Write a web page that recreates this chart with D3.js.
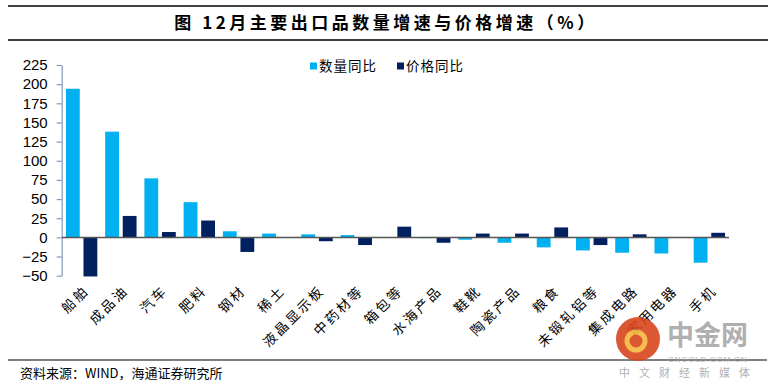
<!DOCTYPE html>
<html>
<head>
<meta charset="utf-8">
<script src="https://cdn.jsdelivr.net/npm/d3@7"></script>
<style>
  body { margin: 0; background: #fff; }
  svg { display: block; }
</style>
</head>
<body>
<svg id="chart" width="773" height="388"></svg>
<script>
// Data
const categories = ['船舶', '成品油', '汽车', '肥料', '钢材', '稀土', '液晶显示板', '中药材等', '箱包等',
    '水海产品', '鞋靴', '陶瓷产品', '粮食', '未锻轧铝等', '集成电路', '家用电器', '手机'];
const qty_yoy = [194, 138, 77, 46, 8, 5, 4, 3, 0, -1, -3, -7, -13, -17, -20, -21, -33];
const price_yoy = [-51, 28, 7, 22, -19, 0, -5, -10, 14, -7, 5, 5, 13, -10, 4, 0, 6];
const y_ticks = [-50, -25, 0, 25, 50, 75, 100, 125, 150, 175, 200, 225];
const series = ['数量同比', '价格同比'];

const colors = { '数量同比': '#00b0f0', '价格同比': '#002060' };
const cjk = '"Noto Sans CJK SC", sans-serif';

const svg = d3.select('#chart');

// title + frame lines
svg.append('line').attr('x1', 8).attr('x2', 768).attr('y1', 6).attr('y2', 6)
    .attr('stroke', '#000').attr('stroke-width', 1.5);
svg.append('line').attr('x1', 8).attr('x2', 768).attr('y1', 40).attr('y2', 40)
    .attr('stroke', '#000').attr('stroke-width', 1.5);
svg.append('text')
    .attr('x', 386).attr('y', 29)
    .attr('text-anchor', 'middle')
    .attr('font-family', cjk).attr('font-size', 17).attr('font-weight', 700)
    .attr('letter-spacing', 3.5)
    .text('图 12月主要出口品数量增速与价格增速（%）');

// scales
const x = d3.scaleBand()
    .domain(categories)
    .range([62, 729]);

const x_inner = d3.scaleBand()
    .domain(series)
    .range([0, x.bandwidth()])
    .paddingInner(0.213)
    .paddingOuter(0.224);

const y = d3.scaleLinear()
    .domain([-50, 225])
    .range([275.7, 65]);

// y axis
const y_axis = svg.append('g')
    .attr('transform', 'translate(61.7,0)')
    .call(d3.axisLeft(y).tickValues(y_ticks).tickSize(5).tickSizeOuter(0).tickPadding(9));
y_axis.select('.domain').attr('stroke', '#8596b8').attr('stroke-width', 1.2);
y_axis.selectAll('.tick line').attr('stroke', '#8596b8').attr('stroke-width', 1.2);
y_axis.selectAll('.tick text')
    .attr('font-family', '"Liberation Sans", Arial, sans-serif')
    .attr('font-size', 15)
    .attr('fill', '#000');

// bars
const rows = categories.map((c, i) => ({ cat: c, vals: [qty_yoy[i], price_yoy[i]] }));

const groups = svg.selectAll('g.cat')
    .data(rows)
    .join('g')
    .classed('cat', true)
    .attr('transform', d => `translate(${x(d.cat)},0)`);

groups.selectAll('rect')
    .data(d => d.vals.map((v, j) => ({ key: series[j], v: v })))
    .join('rect')
    .attr('x', d => x_inner(d.key))
    .attr('width', x_inner.bandwidth())
    .attr('y', d => y(Math.max(0, d.v)))
    .attr('height', d => Math.abs(y(d.v) - y(0)))
    .attr('fill', d => colors[d.key]);

// zero line
svg.append('line')
    .attr('x1', 62).attr('x2', 729)
    .attr('y1', y(0)).attr('y2', y(0))
    .attr('stroke', '#555').attr('stroke-width', 1.5);

// x labels
svg.selectAll('text.xlab')
    .data(categories)
    .join('text')
    .classed('xlab', true)
    .attr('transform', d => `translate(${x(d) + x.bandwidth() / 2 + 5},${288}) rotate(-45)`)
    .attr('text-anchor', 'end')
    .attr('dy', '0.35em')
    .attr('font-family', cjk).attr('font-size', 13.5)
    .attr('letter-spacing', 2.5)
    .text(d => d);

// legend
const legend = svg.append('g').attr('transform', 'translate(310,66)');
const legend_x = [0, 87];
series.forEach((s, i) => {
    const g = legend.append('g').attr('transform', `translate(${legend_x[i]},0)`);
    g.append('rect').attr('x', 0).attr('y', -3.5).attr('width', 7).attr('height', 7).attr('fill', colors[s]);
    g.append('text').attr('x', 9).attr('y', 0).attr('dy', '0.35em')
        .attr('font-family', cjk).attr('font-size', 13.5).attr('letter-spacing', 1)
        .text(s);
});

// footer
svg.append('line').attr('x1', 8).attr('x2', 767).attr('y1', 360).attr('y2', 360)
    .attr('stroke', '#000').attr('stroke-width', 1.2);
svg.append('text')
    .attr('x', 20).attr('y', 378)
    .attr('font-family', cjk).attr('font-size', 13)
    .text('资料来源：WIND，海通证券研究所');

// watermark
const wm = svg.append('g').attr('opacity', 0.9);
wm.append('circle').attr('cx', 638).attr('cy', 339).attr('r', 22).attr('fill', '#d9461c');
wm.append('circle').attr('cx', 636).attr('cy', 341).attr('r', 9).attr('fill', 'none')
    .attr('stroke', '#f6b73c').attr('stroke-width', 5);
wm.append('text').attr('x', 667).attr('y', 345)
    .attr('font-family', cjk).attr('font-size', 27).attr('font-weight', 700).attr('fill', '#a8a8a8')
    .text('中金网');
wm.append('text').attr('x', 668).attr('y', 362)
    .attr('font-family', '"Liberation Sans", sans-serif').attr('font-size', 8).attr('fill', '#a8a8a8')
    .attr('letter-spacing', 0.8)
    .text('CNGOLD.COM.CN');
wm.append('text').attr('x', 619).attr('y', 377)
    .attr('font-family', cjk).attr('font-size', 11).attr('fill', '#a8a8a8')
    .attr('letter-spacing', 9)
    .text('中文财经新媒体');
</script>
</body>
</html>
